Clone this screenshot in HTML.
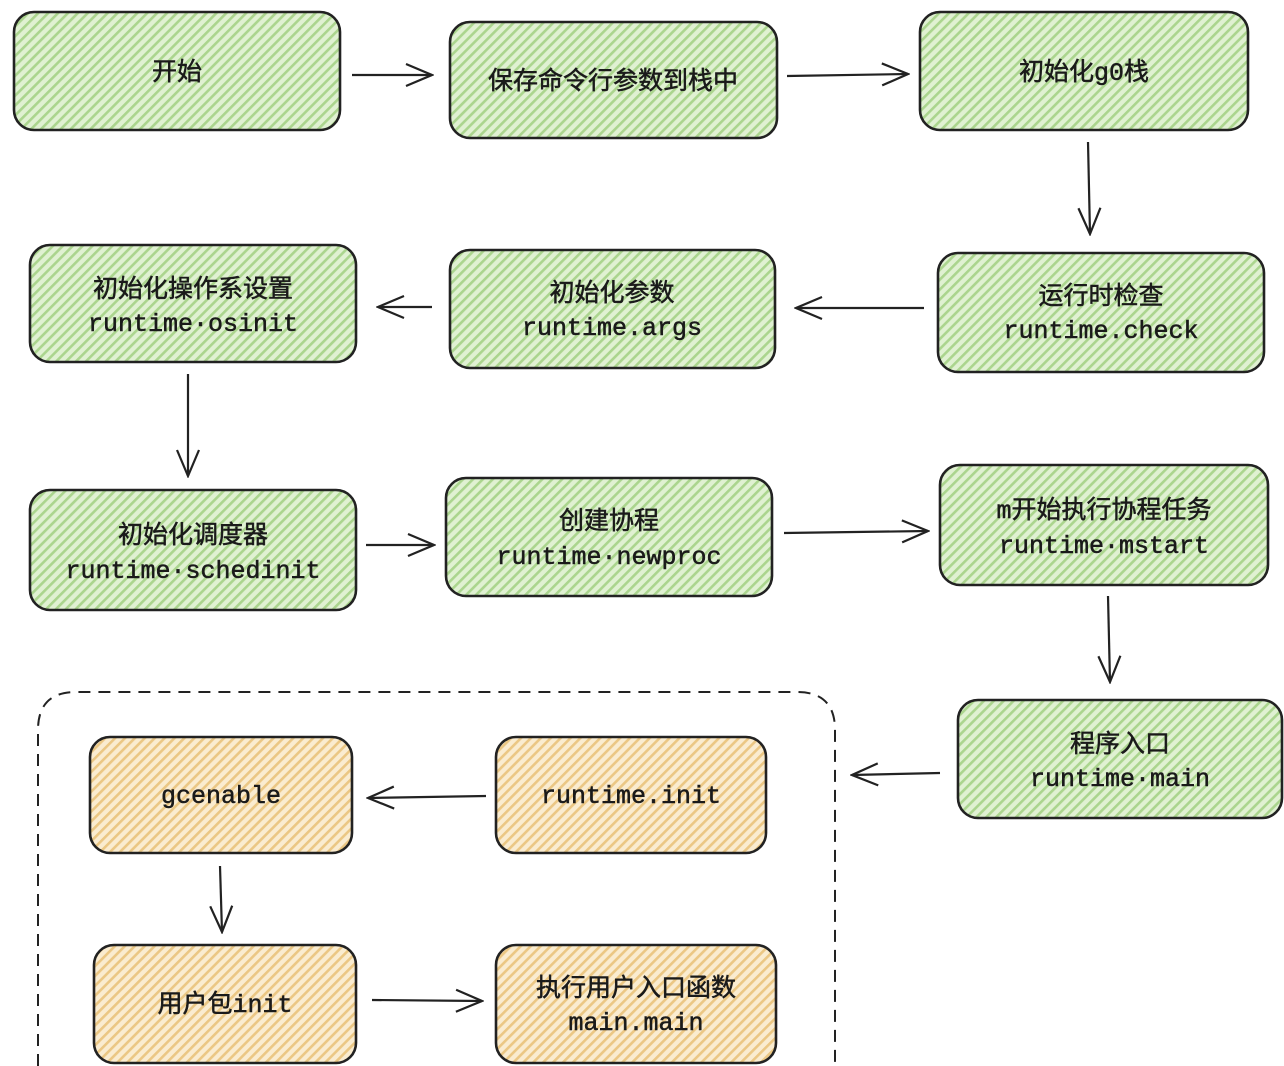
<!DOCTYPE html>
<html><head><meta charset="utf-8"><style>
html,body{margin:0;padding:0;background:#fff;}
svg{display:block;}
text{font-family:"Liberation Mono","Noto Sans CJK SC",monospace;font-size:25px;fill:#1a1a1a;stroke:#1a1a1a;stroke-width:0.5;text-anchor:middle;}
</style></head><body>
<svg width="1284" height="1066" viewBox="0 0 1284 1066" xmlns="http://www.w3.org/2000/svg">
<defs>
<pattern id="g" width="7" height="7" patternUnits="userSpaceOnUse" patternTransform="rotate(45)">
<rect width="7" height="7" fill="#e0f1d2"/><rect width="2.6" height="7" fill="#abd58e"/></pattern>
<pattern id="y" width="7" height="7" patternUnits="userSpaceOnUse" patternTransform="rotate(45)">
<rect width="7" height="7" fill="#faecd0"/><rect width="2.6" height="7" fill="#ebc784"/></pattern>
<marker id="a" markerWidth="30" markerHeight="30" refX="28" refY="15" orient="auto" markerUnits="userSpaceOnUse">
<path d="M2,4 L28,15 L2,26" fill="none" stroke="#222" stroke-width="2.2"/></marker>
</defs>
<g stroke="#222" stroke-width="2.6">
<rect x="14" y="12" width="326" height="118" rx="20" fill="url(#g)"/>
<rect x="450" y="22" width="327" height="116" rx="20" fill="url(#g)"/>
<rect x="920" y="12" width="328" height="118" rx="20" fill="url(#g)"/>
<rect x="938" y="253" width="326" height="119" rx="20" fill="url(#g)"/>
<rect x="450" y="250" width="325" height="118" rx="20" fill="url(#g)"/>
<rect x="30" y="245" width="326" height="117" rx="20" fill="url(#g)"/>
<rect x="30" y="490" width="326" height="120" rx="20" fill="url(#g)"/>
<rect x="446" y="478" width="326" height="118" rx="20" fill="url(#g)"/>
<rect x="940" y="465" width="328" height="120" rx="20" fill="url(#g)"/>
<rect x="958" y="700" width="324" height="118" rx="20" fill="url(#g)"/>
<rect x="496" y="737" width="270" height="116" rx="20" fill="url(#y)"/>
<rect x="90" y="737" width="262" height="116" rx="20" fill="url(#y)"/>
<rect x="94" y="945" width="262" height="118" rx="20" fill="url(#y)"/>
<rect x="496" y="945" width="280" height="118" rx="20" fill="url(#y)"/>
</g>
<path d="M38,1066 L38,730 Q38,692 76,692 L797,692 Q835,692 835,730 L835,1066" fill="none" stroke="#222" stroke-width="2" stroke-dasharray="12,8"/>
<g stroke="#222" stroke-width="2.2" fill="none" marker-end="url(#a)">
<line x1="352" y1="75" x2="432" y2="75"/>
<line x1="787" y1="76" x2="908" y2="74"/>
<line x1="1088" y1="142" x2="1090" y2="234"/>
<line x1="924" y1="308" x2="796" y2="308"/>
<line x1="432" y1="307" x2="378" y2="307"/>
<line x1="188" y1="374" x2="188" y2="476"/>
<line x1="366" y1="545" x2="434" y2="545"/>
<line x1="784" y1="533" x2="928" y2="531"/>
<line x1="1108" y1="596" x2="1110" y2="682"/>
<line x1="940" y1="773" x2="852" y2="775"/>
<line x1="486" y1="796" x2="368" y2="798"/>
<line x1="220" y1="866" x2="222" y2="932"/>
<line x1="372" y1="1000" x2="482" y2="1001"/>
</g>
<text x="177" y="80">开始</text>
<text x="613" y="89">保存命令行参数到栈中</text>
<text x="1084" y="80">初始化g0栈</text>
<text x="1101" y="304">运行时检查</text>
<text x="1101" y="338">runtime.check</text>
<text x="612" y="301">初始化参数</text>
<text x="612" y="335">runtime.args</text>
<text x="193" y="297">初始化操作系设置</text>
<text x="193" y="331">runtime·osinit</text>
<text x="193" y="543">初始化调度器</text>
<text x="193" y="578">runtime·schedinit</text>
<text x="609" y="529">创建协程</text>
<text x="609" y="564">runtime·newproc</text>
<text x="1104" y="518">m开始执行协程任务</text>
<text x="1104" y="553">runtime·mstart</text>
<text x="1120" y="752">程序入口</text>
<text x="1120" y="786">runtime·main</text>
<text x="631" y="803">runtime.init</text>
<text x="221" y="803">gcenable</text>
<text x="225" y="1012">用户包init</text>
<text x="636" y="996">执行用户入口函数</text>
<text x="636" y="1030">main.main</text>
</svg>
</body></html>
